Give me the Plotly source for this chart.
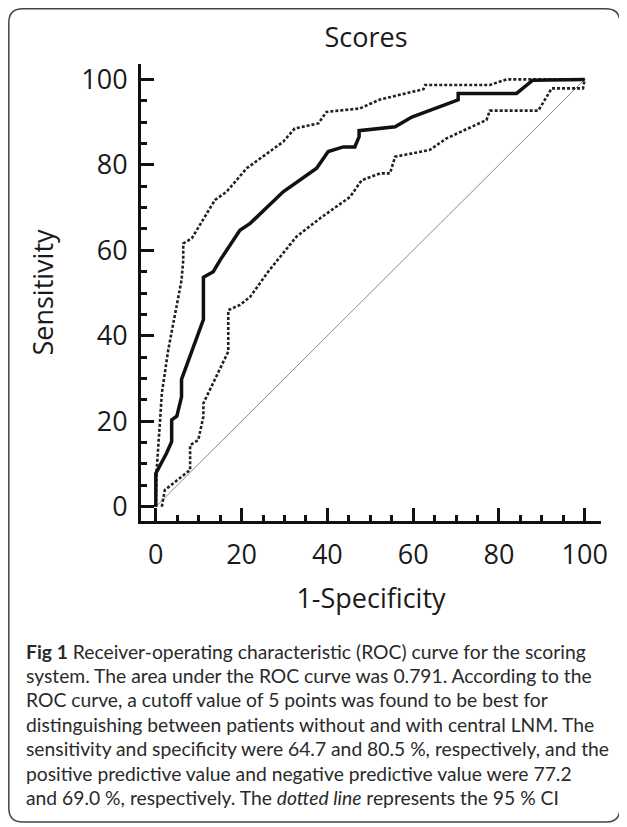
import plotly.graph_objects as go

# ---- data ----
roc_x = [0, 0, 2.5, 3.7, 3.7, 4.9, 6.0, 6.0, 11.1, 11.1, 13.4, 15.0, 19.6, 22.0, 29.7,
         37.5, 40.2, 43.7, 46.4, 47.4, 47.4, 52.3, 55.8, 59.7, 70.5, 70.5, 84.1, 87.9, 100]
roc_y = [0, 7.8, 12.5, 15.2, 20.3, 21.2, 25.7, 29.8, 43.8, 53.7, 55.0, 57.7, 64.7, 66.3, 73.7,
         79.2, 83.1, 84.2, 84.2, 86.6, 88.0, 88.5, 88.9, 91.2, 95.2, 96.7, 96.7, 99.8, 100]

upper_x = [0, 0.2, 1.0, 1.4, 2.9, 4.1, 6.0, 6.4, 6.4, 8.4, 13.8, 16.5, 21.2, 29.7, 32.4,
           37.9, 39.8, 47.6, 52.3, 62.4, 62.8, 77.9, 81.8, 100]
upper_y = [0, 8.6, 20.3, 26.5, 36.7, 42.9, 53.0, 57.7, 61.6, 62.8, 71.8, 73.7, 79.2, 85.4, 88.5,
           89.7, 92.4, 93.2, 95.3, 97.7, 98.7, 98.7, 100, 100]

lower_x = [1.4, 2.1, 8.0, 8.0, 9.9, 11.1, 11.1, 12.6, 16.9, 16.9, 19.6, 22.0, 26.2, 32.8,
           38.3, 45.3, 48.0, 52.3, 54.6, 55.8, 63.9, 67.8, 77.1, 77.9, 89.2, 92.3, 99.6, 100]
lower_y = [0, 3.9, 8.6, 14.4, 15.6, 21.1, 24.2, 27.3, 36.3, 46.0, 47.2, 49.1, 55.0, 63.2,
           67.5, 72.5, 76.4, 78.0, 78.0, 81.9, 83.5, 86.2, 90.5, 92.7, 92.7, 97.9, 97.9, 100]

diag_x = [0, 100]
diag_y = [0, 100]

tick_vals = [0, 20, 40, 60, 80, 100]
tick_text = ["0", "20", "40", "60", "80", "100"]

title_text = "Scores"
x_title = "1-Specificity"
y_title = "Sensitivity"
caption_lines = [
    "<b>Fig 1</b> Receiver-operating characteristic (ROC) curve for the scoring",
    "system. The area under the ROC curve was 0.791. According to the",
    "ROC curve, a cutoff value of 5 points was found to be best for",
    "distinguishing between patients without and with central LNM. The",
    "sensitivity and specificity were 64.7 and 80.5 %, respectively, and the",
    "positive predictive value and negative predictive value were 77.2",
    "and 69.0 %, respectively. The <i>dotted line</i> represents the 95 % CI",
]

# ---- layout geometry (pixels; page body adds an 8px margin) ----
OFF = 8
W, H = 627 - OFF, 827 - OFF
ML, MR, MT, MB = 141 - OFF, 26, 64 - OFF, 306
PW, PH = W - ML - MR, H - MT - MB


def X(px):  # page pixel -> paper x
    return (px - OFF - ML) / PW


def Y(py):  # page pixel -> paper y
    return (H - MB - (py - OFF)) / PH


FONT = "Open Sans"
TXT = "#1a1a1a"

fig = go.Figure()
fig.add_trace(go.Scatter(x=diag_x, y=diag_y, mode="lines",
                         line=dict(color="#8a8a8a", width=1), hoverinfo="skip"))
fig.add_trace(go.Scatter(x=upper_x, y=upper_y, mode="lines",
                         line=dict(color="#222", width=2.6, dash="3px,2px")))
fig.add_trace(go.Scatter(x=lower_x, y=lower_y, mode="lines",
                         line=dict(color="#222", width=2.6, dash="3px,2px")))
fig.add_trace(go.Scatter(x=roc_x, y=roc_y, mode="lines",
                         line=dict(color="#111", width=3.5)))

axis_common = dict(
    showline=True, linewidth=3, linecolor="#111",
    ticks="inside", ticklen=13, tickwidth=3, tickcolor="#111",
    tickvals=tick_vals, ticktext=tick_text,
    minor=dict(ticks="inside", ticklen=6, tickwidth=2.5, tickcolor="#111", dtick=5, tick0=0),
    showgrid=False, zeroline=False,
    tickfont=dict(family=FONT, size=27, color=TXT),
)

fig.update_layout(
    width=W, height=H,
    margin=dict(l=ML, r=MR, t=MT, b=MB, autoexpand=False),
    paper_bgcolor="white", plot_bgcolor="white",
    showlegend=False,
    title=dict(text=title_text, x=(366 - OFF) / W, xanchor="center",
               y=1 - (38 - OFF) / H, yanchor="middle",
               font=dict(family=FONT, size=27, color=TXT)),
    xaxis=dict(range=[-3.45, 103.8], ticklabelstandoff=8,
               title=dict(text=x_title, standoff=18, font=dict(family=FONT, size=27, color=TXT)),
               **axis_common),
    yaxis=dict(range=[-3.35, 103.6], ticklabelstandoff=5,
               title=dict(text=y_title, standoff=20, font=dict(family=FONT, size=27, color=TXT)),
               **axis_common),
)

# caption, one annotation per line
for i, line in enumerate(caption_lines):
    fig.add_annotation(
        xref="paper", yref="paper", x=X(24), y=Y(651 + i * 24.4),
        xanchor="left", yanchor="middle", align="left", showarrow=False,
        text=line,
        font=dict(family="Lato", size=19.3, color="#2a2a2a"),
    )

# rounded frame
x0, y0, x1, y1, r = X(8.8), Y(8.8), X(620), Y(822), 14
rx, ry = r / PW, r / PH
path = (f"M {x0+rx},{y0} L {x1-rx},{y0} Q {x1},{y0} {x1},{y0-ry} "
        f"L {x1},{y1+ry} Q {x1},{y1} {x1-rx},{y1} L {x0+rx},{y1} Q {x0},{y1} {x0},{y1+ry} "
        f"L {x0},{y0-ry} Q {x0},{y0} {x0+rx},{y0} Z")
fig.add_shape(type="path", path=path, xref="paper", yref="paper",
              line=dict(color="#444", width=1.5), layer="below")

fig.write_html("out.html")
